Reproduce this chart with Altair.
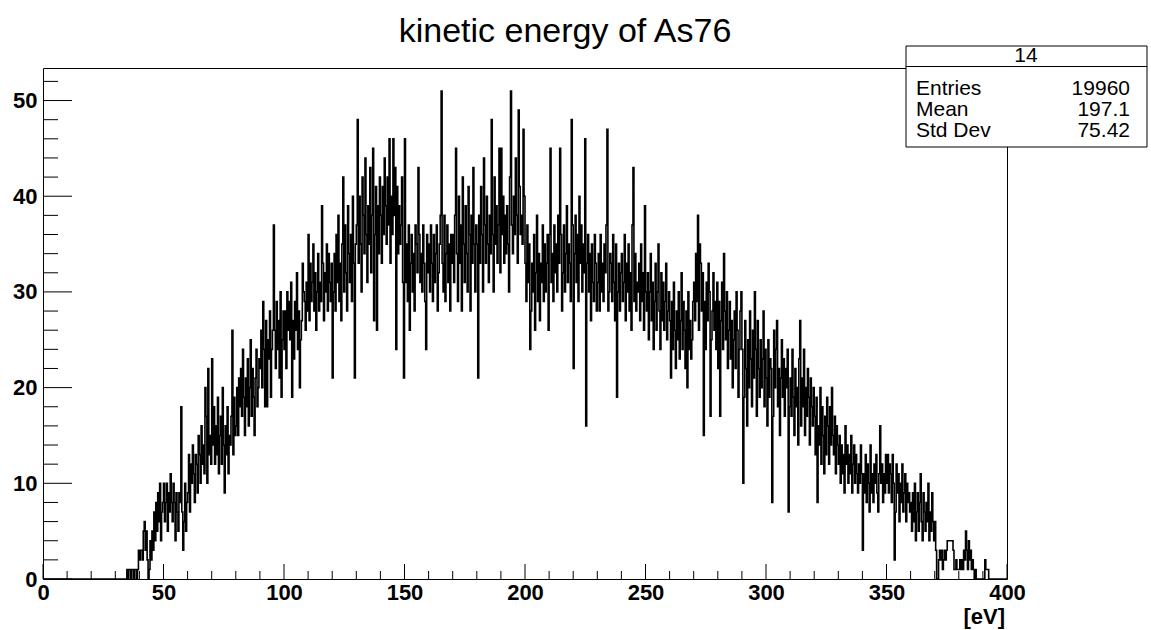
import altair as alt
import pandas as pd

# ---------------- text ----------------
TITLE = "kinetic energy of As76"
HIST_NAME = "14"
stat_names = ["Entries", "Mean", "Std Dev"]
stat_values = ["19960", "197.1", "75.42"]
X_UNIT = "[eV]"

# ---------------- histogram definition ----------------
N_BINS = 1000
X_MIN, X_MAX = 0.0, 400.0
FIRST_BIN = 87  # first listed bin starts at 34.8 eV

# bin contents (0.4 eV bins)
counts_rise = [
    1, 0, 1, 1, 0, 1, 1, 0, 1, 1, 0, 1, 3,  # 34.8-40
    2, 3, 3, 2, 5, 6, 3, 5, 2, 0, 1, 4, 2, 5, 3, 7, 4, 8, 5, 9, 6, 10, 4, 7, 8,
    10, 6, 8, 10, 5, 9, 7, 11, 8, 6, 10, 8, 4, 9, 7, 5, 9, 8, 18, 7, 3, 6, 10, 5, 8,
    9, 13, 7, 12, 10, 14, 11, 8, 13, 12, 9, 15, 13, 10, 16, 12, 14, 11, 20, 17, 10, 22, 13, 15, 12,
    23, 14, 18, 12, 16, 13, 19, 11, 15, 17, 12, 20, 14, 9, 16, 13, 18, 11, 15, 14, 17, 26, 13, 19, 15,
    16, 20, 15, 21, 18, 22, 17, 24, 19, 15, 21, 18, 23, 16, 20, 25, 17, 22, 19, 15, 21, 24, 18, 20, 23,
    22, 26, 20, 29, 24, 18, 27, 18, 25, 23, 28, 19, 24, 26, 37, 26, 22, 29, 24, 27, 21, 30, 19, 25, 28,
]
counts_peak = [
    24, 28, 22, 30, 26, 29, 25, 31, 19, 27, 23, 29, 26, 32, 24, 28, 20, 25, 27, 33, 30, 29, 26, 31, 28,
    36, 27, 33, 29, 31, 35, 28, 32, 26, 30, 34, 28, 31, 29, 39, 33, 27, 32, 30, 35, 28, 34, 31, 29, 33,
    21, 30, 34, 28, 36, 31, 38, 29, 33, 27, 35, 42, 30, 37, 32, 28, 39, 34, 31, 36, 29, 40, 33, 21, 35,
    37, 48, 33, 40, 35, 30, 42, 38, 34, 44, 36, 31, 39, 35, 43, 32, 38, 45, 27, 36, 41, 26, 39, 34, 42,
    38, 33, 41, 36, 44, 39, 35, 42, 37, 46, 33, 40, 36, 46, 38, 43, 24, 41, 34, 39, 35, 37, 42, 31, 21,
    46, 31, 35, 29, 37, 26, 33, 36, 30, 34, 28, 37, 35, 32, 43, 36, 31, 34, 30, 37, 33, 29, 24, 36, 32,
    35, 30, 37, 33, 29, 36, 31, 34, 37, 28, 32, 35, 38, 51, 33, 30, 38, 29, 34, 37, 31, 35, 28, 36, 33,
    36, 31, 38, 45, 34, 29, 40, 33, 37, 28, 42, 35, 31, 39, 34, 30, 41, 36, 28, 38, 33, 43, 35, 30, 37,
    35, 21, 38, 33, 41, 36, 30, 44, 37, 33, 40, 35, 31, 38, 34, 48, 36, 30, 42, 35, 39, 33, 37, 45, 32,
    45, 36, 40, 33, 38, 34, 39, 35, 30, 42, 51, 37, 34, 40, 36, 44, 38, 33, 49, 41, 36, 38, 35, 47, 40,
    33, 29, 37, 31, 35, 24, 28, 33, 30, 36, 26, 32, 38, 29, 34, 27, 33, 31, 37, 29, 35, 30, 33, 36, 26,
    36, 45, 31, 34, 29, 37, 32, 35, 30, 38, 33, 45, 36, 28, 32, 37, 30, 34, 39, 31, 35, 33, 29, 48, 37,
    22, 34, 38, 31, 36, 29, 40, 33, 37, 30, 35, 32, 46, 16, 33, 36, 30, 34, 27, 35, 31, 29, 36, 33, 28,
    31, 34, 28, 36, 30, 33, 29, 35, 32, 37, 47, 28, 30, 34, 33, 29, 36, 31, 27, 35, 19, 30, 33, 28, 32,
    34, 29, 31, 36, 27, 33, 30, 35, 28, 32, 26, 37, 43, 29, 34, 28, 31, 30, 33, 27, 35, 29, 32, 26, 39,
]
counts_fall = [
    30, 28, 32, 25, 30, 34, 27, 31, 24, 29, 33, 26, 30, 35, 28, 24, 32, 27, 31, 26, 29, 33, 25, 28, 30,
    27, 21, 29, 24, 31, 26, 22, 28, 25, 30, 23, 27, 32, 24, 29, 26, 22, 28, 20, 30, 24, 27, 23, 25, 29,
    31, 27, 34, 29, 38, 26, 35, 33, 28, 32, 15, 29, 24, 31, 27, 33, 30, 17, 25, 28, 32, 26, 29, 24, 31,
    22, 29, 17, 27, 31, 24, 34, 28, 25, 30, 22, 26, 29, 23, 27, 20, 25, 28, 22, 30, 26, 19, 24, 28, 30,
    24, 10, 19, 27, 22, 16, 25, 20, 28, 23, 18, 26, 21, 30, 24, 17, 27, 22, 19, 25, 20, 23, 28, 18, 24,
    21, 16, 25, 19, 23, 22, 8, 17, 26, 20, 24, 27, 18, 22, 15, 21, 25, 19, 23, 17, 22, 20, 24, 7, 18,
    21, 17, 24, 19, 15, 22, 18, 20, 14, 23, 27, 16, 21, 18, 24, 15, 20, 17, 22, 19, 14, 21, 18, 16, 20,
    17, 13, 19, 8, 16, 14, 20, 12, 18, 15, 11, 17, 13, 19, 16, 12, 18, 14, 20, 15, 13, 17, 11, 16, 14,
    12, 15, 10, 14, 11, 13, 9, 16, 12, 14, 10, 13, 11, 15, 9, 12, 14, 10, 13, 11, 9, 12, 10, 14, 11,
    3, 11, 9, 13, 8, 12, 10, 7, 14, 9, 11, 8, 12, 10, 13, 9, 7, 11, 16, 10, 12, 8, 11, 9, 13,
    10, 13, 9, 12, 11, 8, 13, 10, 2, 7, 12, 9, 11, 6, 10, 8, 12, 7, 9, 11, 6, 10, 8, 9, 7,
    8, 5, 9, 6, 10, 4, 7, 9, 5, 8, 11, 6, 4, 9, 7, 5, 8, 6, 10, 4, 7, 5, 9, 6, 4,
    6, 3, 0, 0, 2, 3, 2, 3, 1, 2, 3, 2, 3, 4, 4, 4, 4, 4, 4, 3, 1, 1, 2, 1, 1,
    1, 2, 1, 2, 1, 3, 2, 5, 3, 1, 4, 2, 3, 1, 2, 1, 0, 1, 0, 0, 0, 0, 0, 0, 0,
    0, 0, 2, 1, 1, 1, 0, 0, 0, 0,
]

# axis ticks
x_major = [0, 50, 100, 150, 200, 250, 300, 350, 400]
x_minor = [v for v in range(0, 401, 10) if v % 50 != 0]
y_major = [0, 10, 20, 30, 40, 50]
y_minor = [v for v in range(0, 53, 2) if v % 10 != 0]

# ---------------- build the histogram table ----------------
listed = counts_rise + counts_peak + counts_fall
contents = [0] * FIRST_BIN + listed
contents = contents + [0] * (N_BINS - len(contents))
width = (X_MAX - X_MIN) / N_BINS
edges = [X_MIN + i * width for i in range(N_BINS + 1)]
hist_df = pd.DataFrame({"x": edges, "y": contents + [contents[-1]]})

# ---------------- layout ----------------
W, H = 964, 511
FONT = "Liberation Sans"

xs = alt.Scale(domain=[X_MIN, X_MAX], nice=False, zero=False)
ys = alt.Scale(domain=[0, 53.4], nice=False, zero=True)

x_axis = alt.Axis(values=x_major, format="d", title=None, grid=False, ticks=False,
                  tickSize=0, domain=False, labelFont=FONT, labelFontSize=22,
                  labelFontWeight="bold", labelColor="black", labelPadding=3,
                  labelFlush=False, labelOverlap=False)
y_axis = alt.Axis(values=y_major, format="d", title=None, grid=False, ticks=False,
                  tickSize=0, domain=False, labelFont=FONT, labelFontSize=22,
                  labelFontWeight="bold", labelColor="black", labelPadding=6,
                  labelFlush=False, labelOverlap=False)

X = lambda f: alt.X(f, scale=xs, axis=x_axis)
Y = lambda f: alt.Y(f, scale=ys, axis=y_axis)

hist = alt.Chart(hist_df).mark_line(
    interpolate="step-after", color="black", strokeWidth=1.6
).encode(x=X("x:Q"), y=Y("y:Q"))

xt_major = alt.Chart(pd.DataFrame({"t": x_major})).mark_rule(color="black", strokeWidth=1).encode(
    x=X("t:Q"), y=alt.value(H), y2=alt.value(H - 15))
xt_minor = alt.Chart(pd.DataFrame({"t": x_minor})).mark_rule(color="black", strokeWidth=1).encode(
    x=X("t:Q"), y=alt.value(H), y2=alt.value(H - 8))
yt_major = alt.Chart(pd.DataFrame({"t": y_major})).mark_rule(color="black", strokeWidth=1).encode(
    y=Y("t:Q"), x=alt.value(0), x2=alt.value(29))
yt_minor = alt.Chart(pd.DataFrame({"t": y_minor})).mark_rule(color="black", strokeWidth=1).encode(
    y=Y("t:Q"), x=alt.value(0), x2=alt.value(15))

one = pd.DataFrame({"k": [0]})

# stats box
box = alt.Chart(one).mark_rect(fill="white", stroke="black", strokeWidth=1).encode(
    x=alt.value(863), x2=alt.value(1104), y=alt.value(-22), y2=alt.value(79))
sep = alt.Chart(one).mark_rule(color="black", strokeWidth=1).encode(
    x=alt.value(863), x2=alt.value(1104), y=alt.value(-1.5))

layers = [hist, xt_major, xt_minor, yt_major, yt_minor, box, sep]

layers.append(alt.Chart(pd.DataFrame({"s": [HIST_NAME]})).mark_text(
    font=FONT, fontSize=21, align="center", baseline="alphabetic", color="black"
).encode(text="s:N", x=alt.value(983), y=alt.value(-6)))

row_y = [27, 48, 69]
for name, val, yy in zip(stat_names, stat_values, row_y):
    layers.append(alt.Chart(pd.DataFrame({"s": [name]})).mark_text(
        font=FONT, fontSize=21, align="left", baseline="alphabetic", color="black"
    ).encode(text="s:N", x=alt.value(873), y=alt.value(yy)))
    layers.append(alt.Chart(pd.DataFrame({"s": [val]})).mark_text(
        font=FONT, fontSize=21, align="right", baseline="alphabetic", color="black"
    ).encode(text="s:N", x=alt.value(1087), y=alt.value(yy)))

# title
layers.append(alt.Chart(pd.DataFrame({"s": [TITLE]})).mark_text(
    font=FONT, fontSize=34, align="center", baseline="alphabetic", color="black"
).encode(text="s:N", x=alt.value(522), y=alt.value(-26)))

# axis unit
layers.append(alt.Chart(pd.DataFrame({"s": [X_UNIT]})).mark_text(
    font=FONT, fontSize=22, fontWeight="bold", align="right", baseline="alphabetic", color="black"
).encode(text="s:N", x=alt.value(962), y=alt.value(556)))

chart = alt.layer(*layers).properties(
    width=W, height=H,
    autosize=alt.AutoSizeParams(type="none"),
    padding={"left": 43, "top": 68, "right": 144, "bottom": 51},
    background="white",
).configure_view(stroke="black", strokeWidth=1)

chart.save("out.html", embed_options={"renderer": "svg", "actions": False})
